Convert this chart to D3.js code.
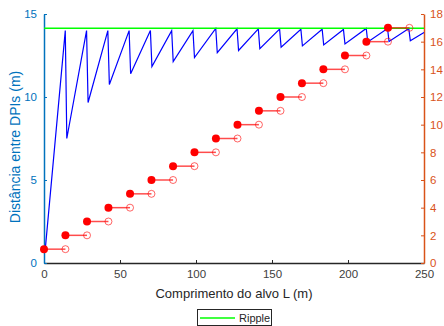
<!DOCTYPE html>
<html>
<head>
<meta charset="utf-8">
<script src="https://cdn.jsdelivr.net/npm/d3@7"></script>
<style>
  body { margin: 0; background: #fff; }
  svg { font-family: "Liberation Sans", Arial, sans-serif; }
</style>
</head>
<body>
<script>
// distancia entre DPIs (eixo esquerdo)
var lengths   = [1, 14, 15, 28, 29, 42, 43, 56, 57, 70, 71, 84, 85, 98, 99, 113, 114, 127, 128,
                 141, 142, 155, 156, 169, 170, 183, 184, 197, 198, 212, 213, 226, 227, 240, 241, 250];
var distances = [1, 14, 7.5, 14, 9.67, 14, 10.75, 14, 11.4, 14, 11.83, 14, 12.14, 14, 12.38, 14.13, 12.67, 14.11, 12.8,
                 14.1, 12.91, 14.09, 13, 14.08, 13.08, 14.08, 13.14, 14.07, 13.2, 14.13, 13.31, 14.13, 13.35, 14.12, 13.39, 13.89];
var ripple = 14.14;

// numero de DPIs (eixo direito), degraus
var stepStart = [0, 14.1, 28.3, 42.4, 56.6, 70.7, 84.9, 99, 113.1, 127.3, 141.4, 155.6, 169.7, 183.8, 198, 212.1, 226.3];
var stepEnd   = [14.1, 28.3, 42.4, 56.6, 70.7, 84.9, 99, 113.1, 127.3, 141.4, 155.6, 169.7, 183.8, 198, 212.1, 226.3, 240.4];
var dpiCount  = [1, 2, 3, 4, 5, 6, 7, 8, 9, 10, 11, 12, 13, 14, 15, 16, 17];

var xTicks = [0, 50, 100, 150, 200, 250];
var yLeftTicks = [0, 5, 10, 15];
var yRightTicks = [0, 2, 4, 6, 8, 10, 12, 14, 16, 18];

function draw() {
    var width = 444, height = 326;
    var left = 44, right = 424, top = 14, bottom = 263;
    var blueAxis = "#0072BD", orangeAxis = "#D95319", grayAxis = "#262626";

    var svg = d3.select("body").append("svg")
        .attr("width", width)
        .attr("height", height);

    var x = d3.scaleLinear().domain([0, 250]).range([left, right]);
    var yL = d3.scaleLinear().domain([0, 15]).range([bottom, top]);
    var yR = d3.scaleLinear().domain([0, 18]).range([bottom, top]);

    // eixos
    var gx = svg.append("g").attr("transform", "translate(0," + bottom + ")")
        .call(d3.axisBottom(x).tickValues(xTicks).tickSizeInner(-3).tickSizeOuter(0).tickPadding(7));
    gx.select(".domain").attr("stroke", grayAxis).attr("stroke-width", 1.5);
    gx.selectAll(".tick line").attr("stroke", grayAxis);
    gx.selectAll(".tick text").attr("fill", "#404040").style("font-size", "11.5px");

    var gl = svg.append("g").attr("transform", "translate(" + left + ",0)")
        .call(d3.axisLeft(yL).tickValues(yLeftTicks).tickSizeInner(-3).tickSizeOuter(0).tickPadding(7));
    gl.select(".domain").attr("stroke", blueAxis).attr("stroke-width", 1.5);
    gl.selectAll(".tick line").attr("stroke", blueAxis);
    gl.selectAll(".tick text").attr("fill", blueAxis).style("font-size", "11.5px");

    var gr = svg.append("g").attr("transform", "translate(" + right + ",0)")
        .call(d3.axisRight(yR).tickValues(yRightTicks).tickSizeInner(-3).tickSizeOuter(0).tickPadding(6));
    gr.select(".domain").attr("stroke", orangeAxis).attr("stroke-width", 1.5);
    gr.selectAll(".tick line").attr("stroke", orangeAxis);
    gr.selectAll(".tick text").attr("fill", orangeAxis).style("font-size", "11.5px");

    svg.selectAll(".tick text").attr("font-family", null);

    // rotulos
    svg.append("text")
        .attr("x", (left + right) / 2).attr("y", 298)
        .attr("text-anchor", "middle")
        .attr("fill", "#262626")
        .style("font-size", "13px")
        .text("Comprimento do alvo L (m)");

    svg.append("text")
        .attr("transform", "translate(20,147) rotate(-90)")
        .attr("text-anchor", "middle")
        .attr("fill", blueAxis)
        .style("font-size", "14px")
        .text("Distância entre DPIs (m)");

    // serie azul
    var line = d3.line()
        .x(function (d, i) { return x(lengths[i]); })
        .y(function (d) { return yL(d); });
    svg.append("path")
        .datum(distances)
        .attr("d", line)
        .attr("fill", "none")
        .attr("stroke", "#0000ff")
        .attr("stroke-width", 1.2);

    // ripple
    svg.append("line")
        .attr("x1", x(0)).attr("x2", x(250))
        .attr("y1", yL(ripple)).attr("y2", yL(ripple))
        .attr("stroke", "#00ff00")
        .attr("stroke-width", 1.5);

    // degraus vermelhos
    var steps = svg.append("g").selectAll("g")
        .data(dpiCount)
        .enter().append("g");
    steps.append("line")
        .attr("x1", function (d, i) { return x(stepStart[i]); })
        .attr("x2", function (d, i) { return x(stepEnd[i]); })
        .attr("y1", function (d) { return yR(d); })
        .attr("y2", function (d) { return yR(d); })
        .attr("stroke", "#ff0000")
        .attr("stroke-opacity", 0.7)
        .attr("stroke-width", 1.5);
    steps.append("circle")
        .attr("cx", function (d, i) { return x(stepEnd[i]); })
        .attr("cy", function (d) { return yR(d); })
        .attr("r", 3.5)
        .attr("fill", "none")
        .attr("stroke", "#ff0000")
        .attr("stroke-opacity", 0.6)
        .attr("stroke-width", 1);
    steps.append("circle")
        .attr("cx", function (d, i) { return x(stepStart[i]); })
        .attr("cy", function (d) { return yR(d); })
        .attr("r", 4)
        .attr("fill", "#ff0000");

    // legenda
    var lg = svg.append("g");
    lg.append("rect")
        .attr("x", 197.5).attr("y", 309.5)
        .attr("width", 74).attr("height", 16)
        .attr("fill", "#fff")
        .attr("stroke", "#262626")
        .attr("stroke-width", 1);
    lg.append("line")
        .attr("x1", 200).attr("x2", 235)
        .attr("y1", 318).attr("y2", 318)
        .attr("stroke", "#00ff00")
        .attr("stroke-width", 1.5);
    lg.append("text")
        .attr("x", 239).attr("y", 322)
        .attr("fill", "#262626")
        .style("font-size", "11px")
        .text("Ripple");
}
draw();
</script>
</body>
</html>
